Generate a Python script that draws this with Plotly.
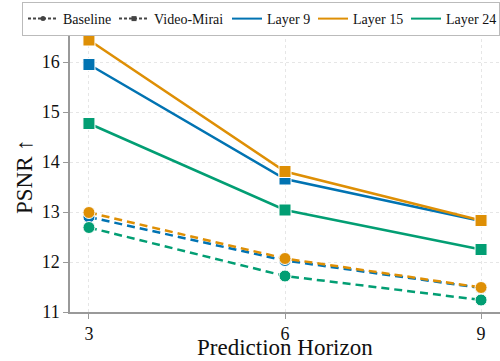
import plotly.graph_objects as go

horizons = [3, 6, 9]
layers = ["Layer 9", "Layer 15", "Layer 24"]
colors = ["#0173B2", "#DE8F05", "#029E73"]
baseline = {
    "Layer 9": [12.90, 12.03, 11.48],
    "Layer 15": [12.99, 12.07, 11.49],
    "Layer 24": [12.69, 11.72, 11.24],
}
video_mirai = {
    "Layer 9": [15.95, 13.66, 12.82],
    "Layer 15": [16.44, 13.81, 12.83],
    "Layer 24": [14.77, 13.04, 12.25],
}
legend_widths = {"Baseline": 46, "Video-Mirai": 68, "Layer 9": 41, "Layer 15": 48, "Layer 24": 48}

FONT = "Liberation Serif"
fig = go.Figure()

# legend-only style entries
fig.add_trace(go.Scatter(x=[None], y=[None], mode="lines+markers", name="Baseline",
                         legendwidth=legend_widths["Baseline"],
                         line=dict(color="#444444", width=2, dash="3px,2px"),
                         marker=dict(symbol="circle", size=5, color="#444444")))
fig.add_trace(go.Scatter(x=[None], y=[None], mode="lines+markers", name="Video-Mirai",
                         legendwidth=legend_widths["Video-Mirai"],
                         line=dict(color="#444444", width=2, dash="3px,2px"),
                         marker=dict(symbol="square", size=5, color="#444444")))
for name, c in zip(layers, colors):
    fig.add_trace(go.Scatter(x=[None], y=[None], mode="lines", name=name,
                             legendwidth=legend_widths[name],
                             line=dict(color=c, width=2)))

for name, c in zip(layers, colors):
    fig.add_trace(go.Scatter(x=horizons, y=baseline[name], mode="lines+markers",
                             showlegend=False,
                             line=dict(color=c, width=2.5, dash="8px,5px"),
                             marker=dict(symbol="circle", size=12, color=c,
                                         line=dict(color="white", width=1))))
for name, c in zip(layers, colors):
    fig.add_trace(go.Scatter(x=horizons, y=video_mirai[name], mode="lines+markers",
                             showlegend=False,
                             line=dict(color=c, width=2.5),
                             marker=dict(symbol="square", size=12, color=c,
                                         line=dict(color="white", width=1))))

fig.update_layout(
    width=500, height=361,
    margin=dict(l=70, r=0, t=27, b=49, autoexpand=False),
    plot_bgcolor="white", paper_bgcolor="white",
    font=dict(family=FONT, color="#111111", size=18),
    legend=dict(orientation="h", x=-0.1116, xanchor="left", y=1.0877, yanchor="top",
                font=dict(family=FONT, size=14, color="#111111"),
                bordercolor="#bbbbbb", borderwidth=1,
                itemwidth=30, tracegroupgap=0,
                bgcolor="white"),
    xaxis=dict(range=[2.71, 9.29], tickvals=horizons, showline=True, mirror=True,
               linecolor="#999999", linewidth=1.5, ticks="outside", ticklen=5,
               tickcolor="#999999", showgrid=True, gridcolor="#e6e6e6", griddash="dot",
               zeroline=False),
    yaxis=dict(range=[11, 16.7], tickvals=[11, 12, 13, 14, 15, 16], showline=True,
               linecolor="#999999", linewidth=1.5, ticks="outside", ticklen=5,
               tickcolor="#999999", showgrid=True, gridcolor="#e6e6e6", griddash="dot",
               zeroline=False),
    annotations=[
        dict(text="Prediction Horizon", xref="paper", yref="paper", x=0.5, y=-0.125,
             xanchor="center", yanchor="middle", showarrow=False,
             font=dict(family=FONT, size=23, color="#111111")),
        dict(text="PSNR ↑", xref="paper", yref="paper", x=-0.107, y=0.477,
             xanchor="center", yanchor="middle", showarrow=False, textangle=-90,
             font=dict(family=FONT, size=23, color="#111111")),
    ],
)

fig.write_html("out.html", config={"displayModeBar": False},
               post_script="document.body.style.margin='0';document.body.style.padding='0';")
